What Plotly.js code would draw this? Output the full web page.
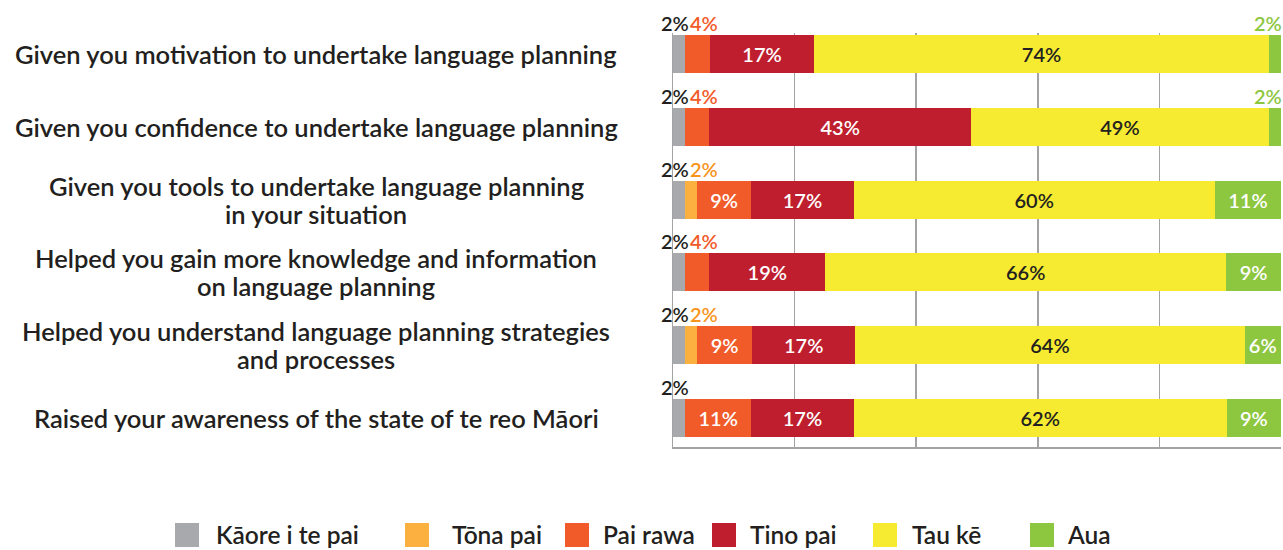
<!DOCTYPE html>
<html>
<head>
<meta charset="utf-8">
<script src="https://cdn.plot.ly/plotly-3.0.1.min.js"></script>
<style>html,body{margin:0;padding:0;background:#fff;}#chart{width:1283px;height:550px;}</style>
</head>
<body>
<div id="chart"></div>
<script>
// ---- data ----
const categories = [
  "Given you motivation to undertake language planning",
  "Given you confidence to undertake language planning",
  "Given you tools to undertake language planning<br>in your situation",
  "Helped you gain more knowledge and information<br>on language planning",
  "Helped you understand language planning strategies<br>and processes",
  "Raised your awareness of the state of te reo Māori"
];
const seriesNames = ["Kāore i te pai", "Tōna pai", "Pai rawa", "Tino pai", "Tau kē", "Aua"];
const kaoreITePai = [2, 2, 2, 2, 2, 2];
const tonaPai     = [0, 0, 2, 0, 2, 0];
const paiRawa     = [4, 4, 9, 4, 9, 11];
const tinoPai     = [17, 43, 17, 19, 17, 17];
const tauKe       = [74, 49, 60, 66, 64, 62];
const aua         = [2, 2, 11, 9, 6, 9];

// ---- styles / layout ----
const seriesValues = [kaoreITePai, tonaPai, paiRawa, tinoPai, tauKe, aua];
const barColors   = ["#a7a9ac", "#fbb040", "#f15a29", "#be1e2d", "#f6eb31", "#8dc63f"];
const insideText  = ["#ffffff", "#ffffff", "#ffffff", "#ffffff", "#231f20", "#ffffff"];
const outsideText = ["#231f20", "#f7941d", "#f15a29", "#be1e2d", "#231f20", "#8dc63f"];
const FONT = "Lato, 'Open Sans', sans-serif";
const gridColor = "#a3a3a3";
const W = 1283, H = 550, ML = 673, MR = 2, MT = 33, MB = 103;
const PW = W - ML - MR, PH = H - MT - MB;
const px2x = px => (px - ML) / PW;
const py2y = py => (H - MB - py) / PH;
const legendSwatchX = [175, 405, 565, 712, 873, 1030];
const legendTextX   = [215, 451, 602, 749, 911, 1066];
const legendY = 535, swatch = 24;

const traces = seriesValues.map((vals, i) => ({
  type: "bar",
  orientation: "h",
  name: seriesNames[i],
  y: categories,
  x: vals,
  marker: { color: barColors[i], line: { width: 0 } },
  text: vals.map(v => v >= 5 ? v + "%" : ""),
  textposition: "inside",
  insidetextanchor: "middle",
  constraintext: "none",
  textangle: 0,
  textfont: { family: FONT, size: 20, color: insideText[i], weight: 600 },
  hoverinfo: "skip",
  showlegend: false
}));

const annotations = [];
// category labels (centered, multi-line with tight line spacing)
categories.forEach(c => {
  const lines = c.split("<br>");
  const gap = 28;
  lines.forEach((ln, k) => {
    annotations.push({
      xref: "paper", yref: "y", x: px2x(316), y: c, xanchor: "center", yanchor: "middle",
      yshift: ((lines.length - 1) / 2 - k) * gap,
      text: ln, showarrow: false, align: "center",
      font: { family: FONT, size: 25.5, color: "#231f20", weight: 600 }
    });
  });
});
// small-value labels placed above the bar
categories.forEach((c, r) => {
  const total = seriesValues.reduce((s, arr) => s + arr[r], 0);
  let cum = 0;
  seriesValues.forEach((arr, i) => {
    const v = arr[r];
    const start = cum / total * 100;
    cum += v;
    const end = cum / total * 100;
    if (v > 0 && v < 5) {
      const last = i === seriesValues.length - 1;
      const first = i === 0;
      annotations.push({
        xref: "x", yref: "y",
        x: (first || last) ? end : start,
        xanchor: (first || last) ? "right" : "left",
        xshift: first ? 6 : (last ? 3 : 3),
        y: c, yanchor: "middle", yshift: 31,
        text: v + "%", showarrow: false,
        font: { family: FONT, size: 20, color: outsideText[i], weight: 600 }
      });
    }
  });
});
// legend (swatches + names)
const shapes = [];
seriesNames.forEach((n, i) => {
  shapes.push({
    type: "rect", xref: "paper", yref: "paper", layer: "above",
    x0: px2x(legendSwatchX[i]), x1: px2x(legendSwatchX[i] + swatch),
    y0: py2y(legendY + swatch / 2), y1: py2y(legendY - swatch / 2),
    fillcolor: barColors[i], line: { width: 0 }
  });
  annotations.push({
    xref: "paper", yref: "paper", x: px2x(legendTextX[i]), y: py2y(legendY - 1),
    xanchor: "left", yanchor: "middle", text: n, showarrow: false, borderpad: 0,
    font: { family: FONT, size: 24.5, color: "#231f20", weight: 600 }
  });
});

const layout = {
  width: W, height: H,
  margin: { l: ML, r: MR, t: MT, b: MB, pad: 0 },
  paper_bgcolor: "#ffffff", plot_bgcolor: "#ffffff",
  barmode: "stack", barnorm: "percent", bargap: 0.478,
  font: { family: FONT, color: "#231f20" },
  xaxis: {
    range: [0, 100], tickmode: "array", tickvals: [20, 40, 60, 80],
    showgrid: true, gridcolor: gridColor, gridwidth: 1.5,
    showticklabels: false, ticks: "", zeroline: false,
    showline: true, linecolor: gridColor, linewidth: 1.5, fixedrange: true
  },
  yaxis: {
    type: "category", range: [5.40, -0.29],
    showticklabels: false, ticks: "", showgrid: false, zeroline: false,
    showline: true, linecolor: gridColor, linewidth: 1.5, fixedrange: true
  },
  showlegend: false,
  shapes: shapes,
  annotations: annotations
};

Plotly.newPlot("chart", traces, layout, { displayModeBar: false, staticPlot: true });
</script>
</body>
</html>
